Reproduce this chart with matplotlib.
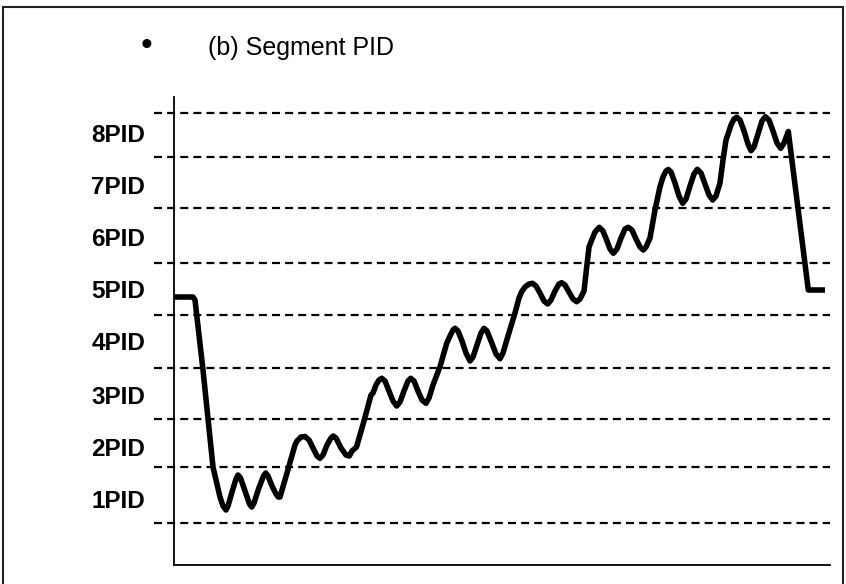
"""
Segment PID sketch: output climbs through the PID bands with a ripple in each band.
"""

import matplotlib.pyplot as plt
from matplotlib.patches import Rectangle

# ── data (time and output in arbitrary units) ────────────────────────────────
band_edges = [452, 408, 357, 302, 250, 197, 146, 98, 42]
band_labels = ['8PID', '7PID', '6PID', '5PID', '4PID', '3PID', '2PID', '1PID']
label_pos = [429, 377, 325, 273, 221, 168, 116, 64]

t = [1, 19, 21, 29, 39, 46, 49, 52, 54, 58, 62, 64, 66.5, 71, 75.5, 77.7,
     80, 84.5, 89.5, 91.7, 94, 98, 102, 104.3, 106, 113, 121, 123, 127, 131,
     135, 139, 143, 146, 149, 153, 157, 159.3, 162, 167, 172, 175.3, 178,
     182.5, 190, 197, 199, 202, 205, 207.7, 211, 215, 219, 222.7, 226, 230,
     234, 236.7, 240, 244, 248, 252, 255, 259, 266, 272.7, 276, 279, 281,
     284, 288, 292, 296, 299, 303, 307, 310, 313, 317, 322, 326, 329, 334,
     341, 345, 347.7, 351, 355, 358.5, 362, 366, 370, 373.7, 377, 381, 385,
     387.7, 391, 395, 399, 402.7, 406, 410, 413, 415, 417.7, 421, 425.3,
     429, 433, 436, 439.3, 443, 447, 451, 454.3, 458, 462, 466, 469.3, 472,
     476, 481, 486, 489, 492, 494.3, 497, 501, 505, 508.7, 512, 516, 520,
     523.3, 527, 531, 535, 538.7, 542, 546, 549, 552, 554.3, 557, 560,
     562.7, 566, 570, 574, 577, 580, 584, 588, 591.3, 595, 599, 603, 606.7,
     610, 614.3, 634.3, 651]
out = [268, 268, 265, 195, 98, 68, 59, 55, 59, 73, 86, 90, 87, 74, 61, 58,
       62, 76, 89, 92, 89, 79, 71, 68, 68, 92, 120, 124, 128, 128.5,
       125, 117, 109, 106.7, 110, 120, 127, 129, 127, 117, 110, 109, 114,
       118, 144, 170, 172, 180, 185, 186.7, 184, 174, 164, 159, 163, 174,
       184, 186.7, 184, 174, 165, 161.7, 167, 180, 198.3, 221.7, 229, 235, 236.7,
       234, 224, 212, 204, 208, 220, 232, 236.7, 234, 224, 211, 206.3, 212, 229,
       252, 267, 273.3, 278, 281, 281.7, 279, 272, 264, 261, 265, 274, 281,
       282.3, 280, 273, 266, 263.3, 266, 274, 300, 318, 325, 333, 337.7,
       334, 324, 316, 311.7, 316, 327, 336, 337.7, 335, 326, 318, 315, 318,
       327, 355, 378.3, 388, 394, 395.5, 393, 382, 369, 361.7, 366, 379, 391,
       395.7, 392, 381, 370, 365, 369, 382, 405, 425, 431.7, 440, 446,
       447.7, 445, 434, 421, 414.3, 418, 431, 444, 448.3, 445, 434, 422, 416.7,
       422, 433.5, 275, 275]

# ── figure ───────────────────────────────────────────────────────────────────
plt.rcParams['font.family'] = ['Liberation Sans', 'DejaVu Sans']

fig = plt.figure(figsize=(8.46, 5.84), dpi=100)
fig.patches.append(Rectangle((3 / 846, -0.05), 840 / 846, 0.05 + 577 / 584,
                             transform=fig.transFigure, fill=False,
                             edgecolor='#222222', linewidth=1.5))

ax = fig.add_axes([174 / 846, 19 / 584, 656 / 846, 468 / 584])
ax.set_xlim(0, 656)
ax.set_ylim(0, 468)

for y in band_edges:
    ax.plot([-20, 656], [y, y], color='black', linewidth=1.6,
            dashes=(3.6, 2.3), clip_on=False, zorder=1)

ax.plot(t, out, color='black', linewidth=4.0, solid_joinstyle='round',
        solid_capstyle='butt', zorder=3)

for name, y in zip(band_labels, label_pos):
    ax.text(-29, y, name, ha='right', va='center', fontsize=17.5,
            fontweight='bold', clip_on=False)

for side in ('top', 'right'):
    ax.spines[side].set_visible(False)
for side in ('left', 'bottom'):
    ax.spines[side].set_linewidth(1.3)
    ax.spines[side].set_color('black')
ax.set_xticks([])
ax.set_yticks([])

fig.text(146 / 846, 1 - 47 / 584, '•', ha='center', va='center', fontsize=24)
fig.text(208 / 846, 1 - 48 / 584, '(b) Segment PID', ha='left', va='center',
         fontsize=18)

fig.savefig('out.png', dpi=100)
